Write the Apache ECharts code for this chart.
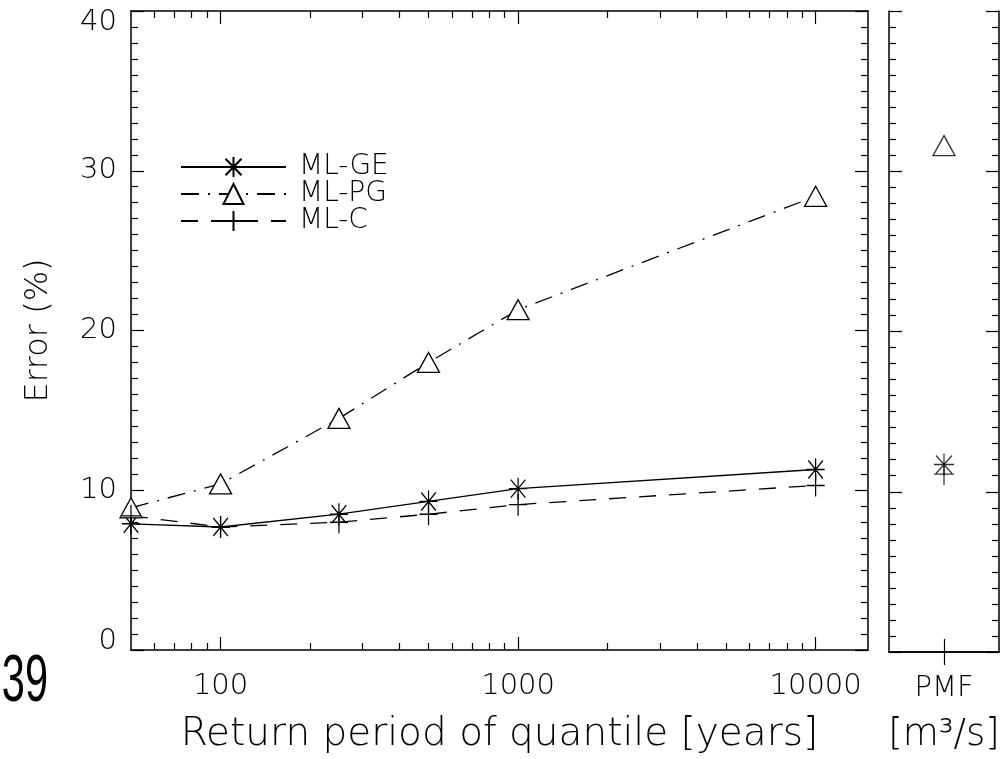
<!DOCTYPE html>
<html>
<head>
<meta charset="utf-8">
<script src="https://cdn.jsdelivr.net/npm/echarts@6/dist/echarts.min.js"></script>
<style>
html, body { margin: 0; padding: 0; background: #fff; }
#chart { width: 1003px; height: 759px; }
</style>
</head>
<body>
<div id="chart"></div>
<script>
// return periods (years) and errors (%)
var returnPeriods = [50, 100, 250, 500, 1000, 10000];
var mlGE = [7.9, 7.7, 8.5, 9.3, 10.1, 11.3];
var mlPG = [8.9, 10.4, 14.5, 18.0, 21.3, 28.4];
var mlC = [8.4, 7.7, 8.0, 8.5, 9.1, 10.3];

// PMF panel
var pmfCategories = ['PMF'];
var pmfGE = [11.7];
var pmfPG = [31.6];
var pmfC = [11.1];

var xMajorTicks = [100, 1000, 10000];
var xMinorTicks = [60, 70, 80, 90, 200, 300, 400, 500, 600, 700, 800, 900,
    2000, 3000, 4000, 5000, 6000, 7000, 8000, 9000];
var xMin = 50, xMax = 15000;
var yMin = 0, yMax = 40, yStep = 10;

var FONT = "'DejaVu Sans', sans-serif";
var BLACK = '#000';

var starPath = 'path://M10 0L10 22M0 11L20 11M2 2L18 20M2 20L18 2';
var plusPath = 'path://M10 0L10 22M0 11L20 11';

function pairs(xs, ys) {
    return xs.map(function (x, i) { return [x, ys[i]]; });
}
function lg(v) { return Math.log10(v); }

var chartDom = document.getElementById('chart');
var myChart = echarts.init(chartDom);

var lineAx = { show: true, lineStyle: { color: BLACK, width: 1.5 } };
var majorTick = { show: true, inside: true, length: 13, lineStyle: { color: BLACK, width: 1.2 } };
var minorTickY = { show: true, splitNumber: 10, length: 7, lineStyle: { color: BLACK, width: 1.2 } };

// helper value axes (log10 space) only used to draw the tick marks
function tickAxis(pos, values, len, withLine) {
    return {
        type: 'value', gridIndex: 0, position: pos,
        min: lg(xMin), max: lg(xMax),
        axisLine: withLine ? lineAx : { show: false },
        axisTick: { show: true, inside: true, length: len, customValues: values.map(lg),
            lineStyle: { color: BLACK, width: 1.2 } },
        axisLabel: { show: false },
        splitLine: { show: false }
    };
}

function yAxisOf(grid, pos, withLabels) {
    return {
        type: 'value', gridIndex: grid, position: pos,
        min: yMin, max: yMax, interval: yStep,
        axisLine: lineAx,
        axisTick: { show: true, inside: true, length: 13, lineStyle: { color: BLACK, width: 1.2 } },
        minorTick: minorTickY,
        splitLine: { show: false },
        axisLabel: withLabels ? {
            show: true, margin: 14,
            color: BLACK, fontFamily: FONT, fontWeight: 200, fontSize: 29,
            formatter: function (v) {
                if (v === yMax) return '{t|' + v + '}';
                if (v === yMin) return '{b|' + v + '}';
                return String(v);
            },
            rich: {
                t: { fontFamily: FONT, fontWeight: 200, fontSize: 29, color: BLACK, padding: [22, 0, 0, 0] },
                b: { fontFamily: FONT, fontWeight: 200, fontSize: 29, color: BLACK, padding: [0, 0, 18, 0] }
            }
        } : { show: false },
        name: withLabels ? 'Error (%)' : '',
        nameLocation: 'middle',
        nameRotate: 90,
        nameGap: 76,
        nameTextStyle: { color: BLACK, fontFamily: FONT, fontWeight: 200, fontSize: 32 }
    };
}

var option = {
    animation: false,
    backgroundColor: '#fff',
    grid: [
        { left: 131, right: 135, top: 11, bottom: 107 },
        { left: 889, width: 110, top: 11, bottom: 107 }
    ],
    legend: {
        orient: 'vertical',
        left: 175, top: 148,
        itemWidth: 105, itemHeight: 25, itemGap: -1,
        data: ['ML-GE', 'ML-PG', 'ML-C'],
        textStyle: { color: BLACK, fontFamily: FONT, fontWeight: 200, fontSize: 28, lineHeight: 24, padding: [0, 0, 0, 8] }
    },
    xAxis: [
        {
            type: 'log', gridIndex: 0, position: 'bottom',
            min: xMin, max: xMax, logBase: 10,
            axisLine: lineAx,
            axisTick: majorTick,
            axisLabel: {
                show: true, margin: 22, showMinLabel: false, showMaxLabel: false,
                color: BLACK, fontFamily: FONT, fontWeight: 200, fontSize: 29,
                formatter: function (v) { return String(Math.round(v)); }
            },
            splitLine: { show: false },
            name: 'Return period of quantile [years]',
            nameLocation: 'middle', nameGap: 65,
            nameTextStyle: { color: BLACK, fontFamily: FONT, fontWeight: 200, fontSize: 39 }
        },
        tickAxis('bottom', xMinorTicks, 7, false),
        tickAxis('top', xMajorTicks, 13, true),
        tickAxis('top', xMinorTicks, 7, false),
        {
            type: 'category', gridIndex: 1, position: 'bottom',
            data: pmfCategories,
            axisLine: lineAx,
            axisTick: { show: true, inside: true, length: 13, alignWithLabel: true, lineStyle: { color: BLACK, width: 1.2 } },
            axisLabel: { show: true, margin: 22, color: BLACK, fontFamily: FONT, fontWeight: 200, fontSize: 29 },
            name: '[m³/s]',
            nameLocation: 'middle', nameGap: 65,
            nameTextStyle: { color: BLACK, fontFamily: FONT, fontWeight: 200, fontSize: 37 }
        },
        {
            type: 'category', gridIndex: 1, position: 'top',
            data: pmfCategories,
            axisLine: lineAx,
            axisTick: { show: true, inside: true, length: 13, alignWithLabel: true, lineStyle: { color: BLACK, width: 1.2 } },
            axisLabel: { show: false }
        }
    ],
    yAxis: [
        yAxisOf(0, 'left', true),
        yAxisOf(0, 'right', false),
        yAxisOf(1, 'left', false),
        yAxisOf(1, 'right', false)
    ],
    graphic: [{
        type: 'text',
        x: 48, y: 683,
        scaleX: 0.62,
        style: { text: '39', font: "67px 'Liberation Sans', sans-serif", fill: BLACK, align: 'right', verticalAlign: 'middle' }
    }],
    series: [
        {
            name: 'ML-GE', type: 'line', xAxisIndex: 0, yAxisIndex: 0,
            data: pairs(returnPeriods, mlGE),
            symbol: starPath, symbolSize: [20, 22], symbolKeepAspect: true,
            lineStyle: { color: BLACK, width: 1.3, type: 'solid' },
            itemStyle: { color: 'transparent', borderColor: BLACK, borderWidth: 1.3 }
        },
        {
            name: 'ML-PG', type: 'line', xAxisIndex: 0, yAxisIndex: 0,
            data: pairs(returnPeriods, mlPG),
            symbol: 'triangle', symbolSize: [22, 20],
            lineStyle: { color: BLACK, width: 1.3, type: [18, 9, 2, 9] },
            itemStyle: { color: '#fff', borderColor: BLACK, borderWidth: 1.3 }
        },
        {
            name: 'ML-C', type: 'line', xAxisIndex: 0, yAxisIndex: 0,
            data: pairs(returnPeriods, mlC),
            symbol: plusPath, symbolSize: [20, 22], symbolKeepAspect: true,
            lineStyle: { color: BLACK, width: 1.3, type: [17, 13] },
            itemStyle: { color: 'transparent', borderColor: BLACK, borderWidth: 1.3 }
        },
        {
            name: 'ML-GE', type: 'scatter', xAxisIndex: 4, yAxisIndex: 2,
            data: pmfGE, symbol: starPath, symbolSize: [20, 22],
            itemStyle: { color: 'transparent', borderColor: BLACK, borderWidth: 1.3 }
        },
        {
            name: 'ML-PG', type: 'scatter', xAxisIndex: 4, yAxisIndex: 2,
            data: pmfPG, symbol: 'triangle', symbolSize: [22, 20],
            itemStyle: { color: '#fff', borderColor: BLACK, borderWidth: 1.3 }
        },
        {
            name: 'ML-C', type: 'scatter', xAxisIndex: 4, yAxisIndex: 2,
            data: pmfC, symbol: plusPath, symbolSize: [20, 22],
            itemStyle: { color: 'transparent', borderColor: BLACK, borderWidth: 1.3 }
        }
    ]
};

option && myChart.setOption(option);
</script>
</body>
</html>
